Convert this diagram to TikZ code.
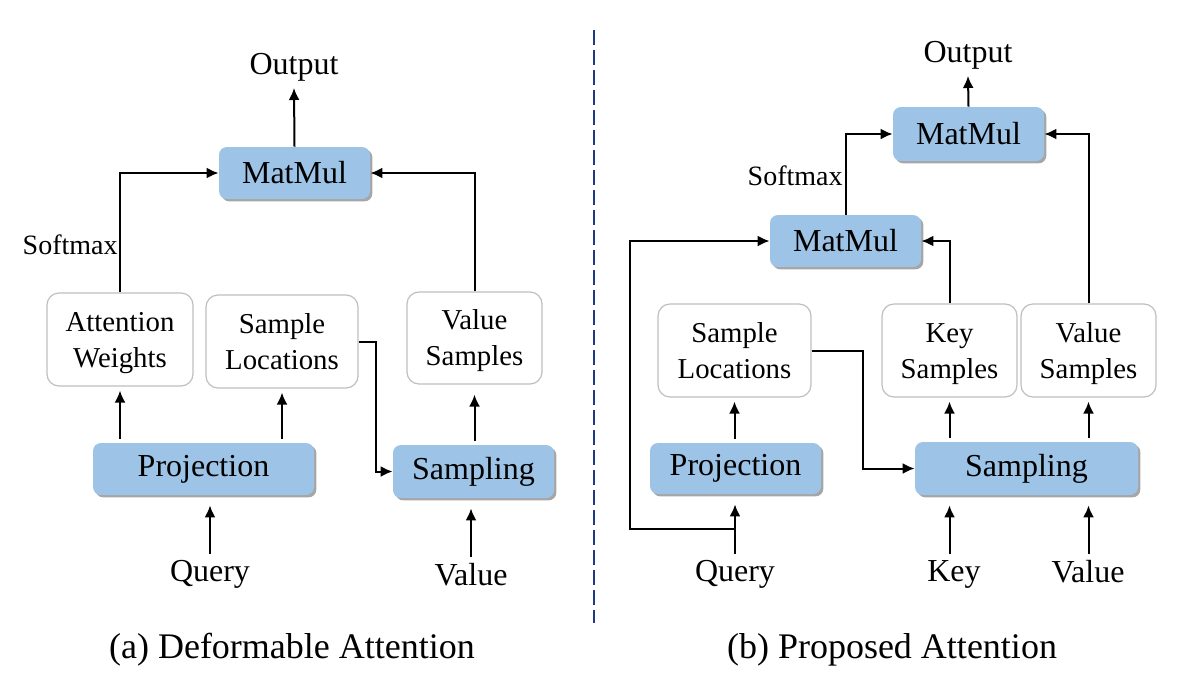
\documentclass[tikz,border=0pt]{standalone}
\usepackage{fontspec}
\setmainfont{Liberation Serif}
\usetikzlibrary{arrows.meta,shadows,calc}
\definecolor{boxblue}{HTML}{9DC3E6}
\definecolor{boxgray}{HTML}{BFBFBF}
\definecolor{navyline}{HTML}{1F3A84}
\newcommand{\topstr}{\rule{0pt}{12.7pt}}
\newcommand{\botstr}{\rule[-3.2pt]{0pt}{3.2pt}}
\tikzset{
 bluebox/.style={rounded corners=4pt, fill=boxblue, inner sep=0pt, font=\fontsize{16}{19}\selectfont,
   drop shadow={shadow xshift=1.2pt, shadow yshift=-1.2pt, opacity=0.35, fill=black}},
 whitebox/.style={rounded corners=6pt, draw=boxgray, line width=0.6pt, fill=white, inner sep=0pt,
   align=center, font=\fontsize{14.4}{18}\selectfont},
 lbl/.style={inner sep=3pt, font=\fontsize{16}{19}\selectfont},
 smlbl/.style={inner sep=1pt, font=\fontsize{14}{17}\selectfont},
 capt/.style={inner sep=0pt, font=\fontsize{18}{22}\selectfont},
 arr/.style={line width=1pt, -{Latex[length=6pt,width=5.5pt]}},
 uparr/.style={arr, shorten <=2pt, shorten >=2pt},
 inarr/.style={arr, shorten >=5pt},
}
\begin{document}
\begin{tikzpicture}[x=0.5pt,y=-0.5pt]
\useasboundingbox (0,0) rectangle (1183,681);
% ---------- left panel ----------
\node[bluebox, minimum width=75.5pt, minimum height=26pt] (mmL) at (294.5,173) {MatMul};
\node[whitebox, minimum width=73pt, minimum height=46.5pt] (aw) at (120,339.5) {\topstr Attention\\Weights\botstr};
\node[whitebox, minimum width=76pt, minimum height=46.5pt] (slL) at (282,341.5) {\topstr Sample\\Locations\botstr};
\node[whitebox, minimum width=67.5pt, minimum height=46pt] (vsL) at (474.5,338) {\topstr Value\\Samples\botstr};
\node[bluebox, minimum width=110.5pt, minimum height=26pt] (projL) at (203.5,469) {Projection};
\node[bluebox, minimum width=80.5pt, minimum height=26.5pt] (sampL) at (473.5,471.5) {Sampling};
\node[lbl, anchor=south] (outL) at (294,88) {Output};
\node[lbl, anchor=north] (qL) at (210,554) {Query};
\node[lbl, anchor=north] (vL) at (471,557) {Value};
\node[smlbl, anchor=east] (smL) at (120,245) {Softmax};
\node[capt] (capL) at (292,650) {(a) Deformable Attention};

\draw[arr] (mmL.north) -- (outL.south);
\draw[arr] (aw.north) |- (mmL.west);
\draw[arr] (vsL.north) |- (mmL.east);
\draw[uparr] (projL.north -| aw.south) -- (aw.south);
\draw[uparr] (projL.north -| slL.south) -- (slL.south);
\draw[arr] (slL.east) -- ++(17,0) |- (sampL.west);
\draw[arr, shorten <=2pt, shorten >=5pt] (sampL.north -| vsL.south) -- (vsL.south);
\draw[inarr] (qL.north) -- (qL.north |- projL.south);
\draw[inarr] (vL.north) -- (vL.north |- sampL.south);

% ---------- divider ----------
\draw[navyline, line width=1pt, dash pattern=on 7.5pt off 2.5pt] (594,30) -- (594,623);

% ---------- right panel ----------
\node[bluebox, minimum width=75.5pt, minimum height=27pt] (mmT) at (968.5,134) {MatMul};
\node[bluebox, minimum width=75.5pt, minimum height=26pt] (mmM) at (845.5,241) {MatMul};
\node[whitebox, minimum width=76.5pt, minimum height=46.5pt] (slR) at (734.5,350.5) {\topstr Sample\\Locations\botstr};
\node[whitebox, minimum width=67.5pt, minimum height=46.5pt] (ks) at (949.5,350.5) {\topstr Key\\Samples\botstr};
\node[whitebox, minimum width=67.5pt, minimum height=46.5pt] (vsR) at (1088.5,350.5) {\topstr Value\\Samples\botstr};
\node[bluebox, minimum width=85.5pt, minimum height=25.5pt] (projR) at (735.5,468.5) {Projection};
\node[bluebox, minimum width=111.5pt, minimum height=26.5pt] (sampR) at (1026.5,468.5) {Sampling};
\node[lbl, anchor=south] (outR) at (968,76) {Output};
\node[lbl, anchor=north] (qR) at (735,554) {Query};
\node[lbl, anchor=north] (kR) at (954,554) {Key};
\node[lbl, anchor=north] (vR) at (1088,554) {Value};
\node[smlbl, anchor=east] (smR) at (845,176) {Softmax};
\node[capt] (capR) at (892,650) {(b) Proposed Attention};
\coordinate (jq) at (735,529);
\coordinate (lp) at (630,529);

\draw[arr] (mmT.north) -- (outR.south);
\draw[arr] (mmM.north) |- (mmT.west);
\draw[arr] (ks.north) |- (mmM.east);
\draw[arr] (vsR.north) |- (mmT.east);
\draw[arr] (jq) -- (lp) |- (mmM.west);
\draw[uparr] (projR.north -| slR.south) -- (slR.south);
\draw[arr] (slR.east) -- ++(51,0) |- (sampR.west);
\draw[uparr] (sampR.north -| ks.south) -- (ks.south);
\draw[uparr] (sampR.north -| vsR.south) -- (vsR.south);
\draw[inarr] (qR.north) -- (qR.north |- projR.south);
\draw[inarr] (kR.north -| ks.south) -- (ks.south |- sampR.south);
\draw[inarr] (vR.north -| vsR.south) -- (vsR.south |- sampR.south);
\end{tikzpicture}
\end{document}
